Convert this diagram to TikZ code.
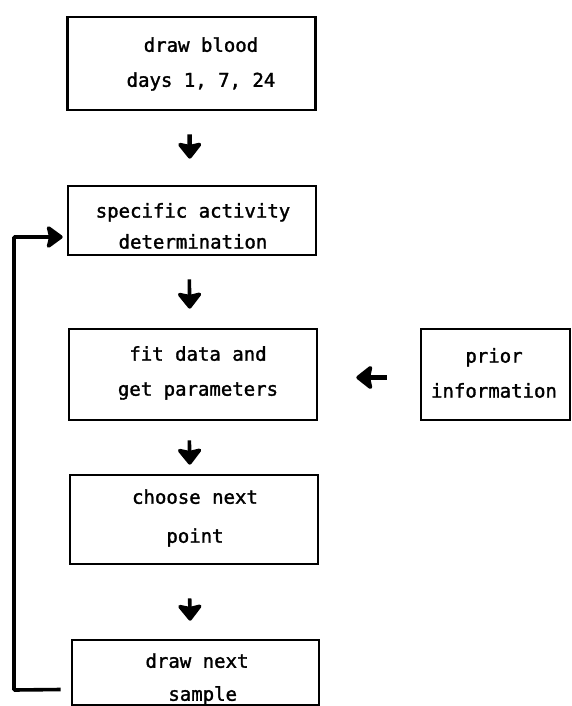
\documentclass[tikz,border=0pt]{standalone}
\usepackage{fontspec}
\usetikzlibrary{arrows.meta}
\newfontfamily\twfont{DejaVu Sans Mono}[FakeBold=1.6]
\begin{document}
\begin{tikzpicture}[x=1pt,y=-1pt,
  box/.style={draw, line width=2.6pt, minimum width=248pt, inner sep=0pt},
  txt/.style={font=\twfont\fontsize{19}{35}\selectfont, align=center, inner sep=0pt},
  arr/.style={line width=4.5pt, -{Stealth[length=18pt,width=28pt,inset=3pt,round]}},
  loopline/.style={line width=3.6pt, -{Stealth[length=18pt,width=26pt,inset=3pt,round]}}]
\useasboundingbox (0,0) rectangle (571,706);

% process boxes
\node[box, minimum height=93pt] (b1) at (191.5,63.5) {};
\node[txt] (t1) at (201,64) {draw blood\\days 1, 7, 24};

\node[box, minimum height=69pt] (b2) at (192,220.5) {};
\node[txt, font=\twfont\fontsize{19}{31}\selectfont] (t2) at (193,226) {specific activity\\determination};

\node[box, minimum height=91pt] (b3) at (193,374.5) {};
\node[txt] (t3) at (198,373) {fit data and\\get parameters};

\node[box, minimum height=91pt, minimum width=149pt] (pr) at (495.5,374.5) {};
\node[txt] (tp) at (494,373) {prior\\information};

\node[box, minimum height=89pt] (b4) at (194,519.5) {};
\node[txt, font=\twfont\fontsize{19}{39}\selectfont] (t4) at (195,518) {choose next\\point};

\node[box, minimum height=65pt, minimum width=247pt] (b5) at (195.5,672.5) {};
\node[txt, font=\twfont\fontsize{19}{33}\selectfont] (t5) at (197,679) {draw next\\~sample};

% flow arrows
\draw[arr, shorten <=23pt, shorten >=26pt] ([xshift=-2pt]b1.south) -- ([xshift=-2pt]b2.north);
\draw[arr, line width=3.6pt, shorten <=23pt, shorten >=19pt] ([xshift=-3pt]b2.south) -- ([xshift=-3pt]b3.north);
\draw[arr, line width=3.6pt, shorten <=19pt, shorten >=9pt] ([xshift=-4pt]b3.south) -- ([xshift=-4pt]b4.north);
\draw[arr, line width=3.6pt, shorten <=33pt, shorten >=18pt] ([xshift=-5pt]b4.south) -- ([xshift=-5pt]b5.north);
\draw[arr, shorten <=33pt, shorten >=38pt] ([yshift=-3pt]pr.west) -- ([yshift=-3pt]b3.east);

% feedback loop
\coordinate (fbStart) at ([shift={(-10pt,-17pt)}]b5.west);
\coordinate (fbEnd) at ([shift={(-4pt,-16.5pt)}]b2.west);
\draw[loopline, rounded corners=1pt] (fbStart) -- (14,690) -- (14,237) -- (fbEnd);
\end{tikzpicture}
\end{document}
